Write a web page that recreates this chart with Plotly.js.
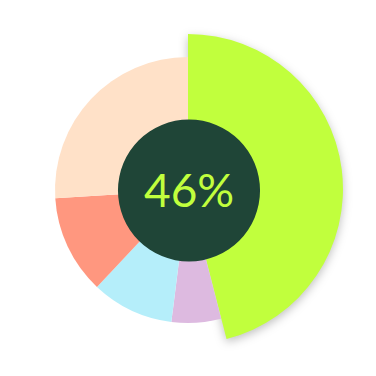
<!DOCTYPE html>
<html><head><meta charset="utf-8">
<script src="https://cdn.plot.ly/plotly-3.0.1.min.js"></script>
<style>html,body{margin:0;padding:0;background:#fff;}</style>
</head><body><div id="chart" style="width:376px;height:376px;"></div>
<script>
const categories = ['Highlight', 'Lilac', 'Blue', 'Salmon', 'Peach'];
const values = [46, 6, 10, 12, 26];
const colors = ['#C1FF3D', '#DDBAE0', '#B5EEFA', '#FF977F', '#FFE1C8'];
const centerLabel = '46%';

const highlightColors = colors.map((c, i) => i === 0 ? c : 'rgba(0,0,0,0)');
const baseColors = colors.map((c, i) => i === 0 ? 'rgba(0,0,0,0)' : c);

const common = {type: 'pie', labels: categories, values: values, sort: false, direction: 'clockwise',
  textinfo: 'none', hoverinfo: 'skip', showlegend: false};

const traces = [
  Object.assign({}, common, {marker: {colors: highlightColors, line: {width: 0}},
    domain: {x: [0.0878, 0.9122], y: [0.0851, 0.9096]}}),
  Object.assign({}, common, {marker: {colors: baseColors, line: {width: 0}},
    domain: {x: [0.1463, 0.8537], y: [0.1410, 0.8484]}}),
  {type: 'pie', labels: ['center'], values: [1], sort: false, textinfo: 'none', hoverinfo: 'skip', showlegend: false,
    marker: {colors: ['#1F4537'], line: {width: 0}},
    domain: {x: [0.3138, 0.6915], y: [0.3045, 0.6822]}}
];

const layout = {
  width: 376, height: 376, margin: {l: 0, r: 0, t: 0, b: 0},
  paper_bgcolor: '#ffffff', plot_bgcolor: '#ffffff',
  annotations: [{text: centerLabel, x: 0.503, y: 0.496, xref: 'paper', yref: 'paper', showarrow: false,
    font: {family: 'Lato, sans-serif', size: 46, color: '#C1FF3D'}}]
};

Plotly.newPlot('chart', traces, layout, {staticPlot: true}).then(() => {
  const paths = document.querySelectorAll('.pielayer .trace:first-child .slice path.surface');
  if (paths.length) paths[0].style.filter = 'drop-shadow(0px 3px 5px rgba(0,0,0,0.25))';
});
</script></body></html>
